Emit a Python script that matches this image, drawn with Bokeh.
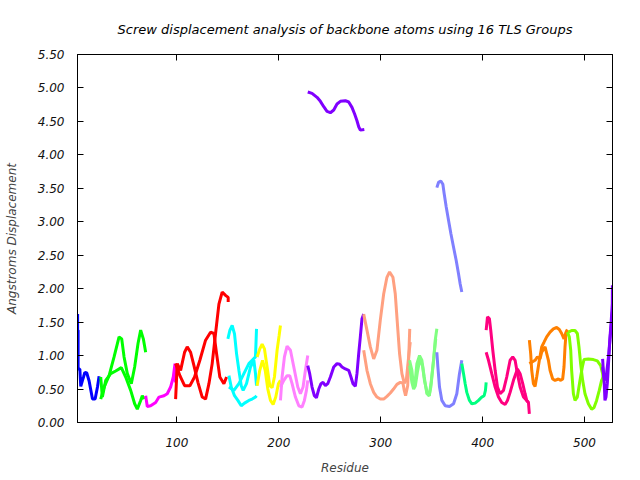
from bokeh.plotting import figure
from bokeh.models import Range1d, LinearAxis, FixedTicker, NumeralTickFormatter
from bokeh.embed import file_html
from bokeh.resources import INLINE

# ---- data: residue number / screw displacement (Angstroms), two traces per TLS group ----
g01_res_a = [2.5, 2.5, 3.0, 3.0, 4.7, 5.6, 7.3, 8.3, 9.6, 11.5, 13.8, 17.1, 19.7, 22.0, 23.6]
g01_val_a = [1.62, 1.38, 1.38, 0.80, 0.80, 0.54, 0.63, 0.68, 0.75, 0.74, 0.62, 0.35, 0.35, 0.53, 0.69]

g02_res_a = [25.2, 26.8, 30.1, 35.0, 39.9, 45.4, 49.7, 54.6, 58.5, 61.1, 64.4, 66.0, 67.7]
g02_val_a = [0.68, 0.38, 0.63, 0.73, 0.77, 0.82, 0.68, 0.48, 0.28, 0.20, 0.33, 0.40, 0.35]
g02_res_b = [25.2, 28.5, 33.4, 38.3, 43.2, 45.8, 48.1, 51.3, 55.2, 58.5, 61.8, 64.4, 67.0, 69.3]
g02_val_b = [0.35, 0.53, 0.70, 0.98, 1.28, 1.25, 0.98, 0.73, 0.58, 0.83, 1.18, 1.38, 1.25, 1.05]

g03_res_a = [69.3, 70.9, 74.2, 79.1, 82.4, 87.3, 90.5, 93.8, 96.4, 98.1, 98.5]
g03_val_a = [0.40, 0.24, 0.25, 0.30, 0.38, 0.40, 0.43, 0.53, 0.68, 0.88, 0.60]

g04_res_a = [98.7, 100.3, 103.6, 107.5, 110.1, 113.4, 116.7, 120.6, 124.8, 128.1, 131.4, 134.6,
             137.9, 141.2, 144.4, 147.7, 150.3, 150.3]
g04_val_a = [0.35, 0.88, 0.78, 1.05, 1.13, 1.05, 0.85, 0.60, 0.38, 0.35, 0.58, 0.88,
             1.33, 1.77, 1.95, 1.90, 1.87, 1.80]
g04_res_b = [98.7, 102.9, 107.5, 112.7, 117.3, 122.5, 128.1, 133.0, 136.3, 138.9, 142.1, 146.1, 148.7]
g04_val_b = [0.88, 0.70, 0.55, 0.55, 0.68, 0.93, 1.23, 1.35, 1.33, 1.03, 0.68, 0.58, 0.68]

g05_res_a = [150.0, 151.9, 154.2, 156.5, 158.5, 160.8, 163.1, 165.0, 168.3, 172.2, 175.5, 177.1, 178.1]
g05_val_a = [1.25, 1.375, 1.45, 1.325, 1.03, 0.78, 0.55, 0.48, 0.58, 0.83, 0.93, 0.73, 0.55]
g05_res_b = [151.0, 153.3, 156.5, 159.8, 163.1, 166.3, 170.6, 173.8, 177.1, 178.1]
g05_val_b = [0.70, 0.53, 0.40, 0.33, 0.25, 0.29, 0.33, 0.35, 0.38, 0.40]
g05_res_c = [151.0, 155.9, 160.8, 165.7, 170.6, 173.8, 177.1, 178.1]
g05_val_c = [0.53, 0.48, 0.58, 0.73, 0.88, 0.93, 0.98, 1.40]

g06_res_a = [178.7, 181.3, 183.6, 185.9, 188.5, 191.1, 193.4, 195.7, 198.3, 200.3, 201.6]
g06_val_a = [0.98, 1.10, 1.17, 1.10, 0.83, 0.55, 0.52, 0.68, 1.08, 1.30, 1.45]
g06_res_b = [178.7, 181.3, 184.0, 186.6, 189.2, 191.8, 194.4, 197.0, 199.6, 201.6]
g06_val_b = [0.55, 0.78, 0.93, 0.78, 0.50, 0.33, 0.27, 0.38, 0.58, 0.63]

g07_res_a = [201.6, 203.2, 205.5, 208.1, 211.4, 214.7, 218.6, 221.2, 223.8, 226.1, 228.4]
g07_val_a = [0.33, 0.68, 0.98, 1.14, 1.08, 0.83, 0.53, 0.43, 0.53, 0.78, 1.00]
g07_res_b = [201.6, 204.9, 208.1, 210.7, 213.0, 216.3, 219.6, 222.8, 225.1, 227.1, 228.4]
g07_val_b = [0.53, 0.63, 0.70, 0.70, 0.58, 0.38, 0.25, 0.23, 0.33, 0.48, 0.63]

g08_res_a = [228.4, 230.3, 232.6, 234.9, 236.9, 239.2, 241.4, 243.4, 245.7, 248.0, 250.6, 253.9, 257.1,
             259.7, 262.0, 265.3, 268.6, 270.8, 272.8, 275.1, 276.7, 278.4, 280.0, 281.6, 283.3]
g08_val_a = [0.85, 0.73, 0.53, 0.40, 0.37, 0.50, 0.58, 0.60, 0.55, 0.58, 0.68, 0.83, 0.88,
             0.87, 0.83, 0.80, 0.78, 0.68, 0.58, 0.54, 0.73, 1.03, 1.28, 1.55, 1.62]
g08_res_b = [228.4, 232.6, 237.5, 240.8, 244.1, 247.3, 250.6, 253.9, 257.1, 260.4, 265.3, 268.6,
             271.8, 274.4, 276.7, 278.4, 280.0, 283.9]
g08_val_b = [4.94, 4.92, 4.86, 4.80, 4.72, 4.65, 4.63, 4.67, 4.76, 4.80, 4.81, 4.79,
             4.71, 4.61, 4.51, 4.42, 4.37, 4.38]

g09_res_a = [283.3, 286.5, 289.8, 293.1, 296.3, 299.6, 302.9, 306.1, 308.7, 312.0, 314.3, 316.6,
             318.5, 320.8, 323.1, 325.1, 327.4, 329.0]
g09_val_a = [1.62, 1.38, 1.13, 0.95, 1.08, 1.53, 1.92, 2.17, 2.25, 2.17, 1.92, 1.43,
             1.03, 0.73, 0.59, 0.63, 0.98, 1.20]
g09_res_b = [283.3, 286.5, 289.8, 293.1, 296.3, 299.6, 302.9, 306.1, 309.4, 312.6, 315.9, 319.2,
             321.8, 323.1, 324.4, 326.5, 328.5]
g09_val_b = [1.08, 0.78, 0.58, 0.45, 0.38, 0.35, 0.35, 0.39, 0.44, 0.50, 0.57, 0.60,
             0.59, 0.48, 0.40, 0.55, 1.40]

g10_res_a = [328.3, 330.6, 332.3, 333.9, 335.5, 338.1, 340.4, 342.7, 345.3, 347.6, 349.2, 351.9, 353.5, 355.1]
g10_val_a = [0.93, 0.78, 0.53, 0.63, 0.88, 1.00, 0.93, 0.68, 0.43, 0.40, 0.53, 0.93, 1.23, 1.40]
g10_res_b = [328.3, 330.6, 332.3, 334.0, 336.0, 338.5, 341.0, 343.0, 345.5, 347.6, 349.5, 352.0, 354.0]
g10_val_b = [0.85, 0.60, 0.50, 0.55, 0.75, 0.95, 0.85, 0.62, 0.45, 0.40, 0.60, 0.95, 1.25]

g11_res_a = [355.1, 356.1, 357.7, 360.0, 363.3, 367.5, 371.5, 374.7, 377.3, 379.6]
g11_val_a = [1.05, 0.83, 0.53, 0.33, 0.25, 0.24, 0.28, 0.43, 0.73, 0.93]
g11_res_b = [355.1, 356.8, 359.0, 361.0, 362.3, 364.3, 366.6, 368.9, 371.5, 374.1, 376.4, 378.0, 379.6]
g11_val_b = [3.51, 3.59, 3.61, 3.56, 3.42, 3.22, 3.02, 2.82, 2.62, 2.42, 2.22, 2.07, 1.95]

g12_res_a = [379.6, 381.3, 382.9, 384.5, 387.1, 389.4, 392.7, 396.0, 399.2, 401.5, 402.8, 403.5]
g12_val_a = [0.88, 0.73, 0.58, 0.45, 0.33, 0.28, 0.29, 0.33, 0.38, 0.40, 0.48, 0.60]

g13_res_a = [403.5, 404.8, 406.7, 408.0, 410.0, 412.3, 414.6, 417.2, 420.5, 423.7, 427.0, 429.6,
             431.9, 434.2, 436.8, 440.1, 443.3, 445.0, 445.9]
g13_val_a = [1.38, 1.58, 1.55, 1.38, 1.08, 0.78, 0.53, 0.43, 0.48, 0.68, 0.93, 0.98,
             0.93, 0.73, 0.53, 0.38, 0.33, 0.30, 0.13]
g13_res_b = [403.5, 405.8, 409.0, 412.3, 415.6, 418.8, 422.1, 424.4, 427.0, 430.3, 434.2, 436.8,
             439.4, 441.7, 443.3, 445.0]
g13_val_b = [1.05, 0.93, 0.73, 0.53, 0.38, 0.30, 0.27, 0.33, 0.45, 0.63, 0.80, 0.73,
             0.58, 0.43, 0.33, 0.30]

g14_res_a = [445.9, 447.2, 448.2, 449.9, 451.5, 453.1, 455.7, 458.0, 460.3, 462.9, 466.2, 469.5,
             472.7, 475.3, 477.6, 479.9, 481.9, 483.2]
g14_val_a = [1.23, 1.03, 0.78, 0.58, 0.54, 0.68, 0.93, 1.13, 1.20, 1.28, 1.35, 1.40,
             1.42, 1.39, 1.33, 1.25, 1.35, 1.39]
g14_res_b = [445.9, 448.2, 451.5, 453.8, 456.4, 458.0, 461.3, 464.6, 466.2, 468.8, 471.1, 474.4,
             476.7, 478.6, 479.9, 480.9, 481.9, 483.2]
g14_val_b = [0.88, 0.90, 0.93, 0.98, 0.95, 1.05, 1.13, 0.93, 0.78, 0.65, 0.63, 0.65,
             0.63, 0.65, 0.83, 1.13, 1.33, 1.37]

g15_res_a = [483.2, 485.1, 486.5, 487.4, 489.1, 490.7, 493.0, 495.6, 497.9, 499.5, 503.8, 508.7,
             512.6, 515.9, 517.8, 518.5]
g15_val_a = [1.35, 1.28, 1.08, 0.78, 0.43, 0.33, 0.38, 0.63, 0.83, 0.94, 0.95, 0.94,
             0.92, 0.85, 0.73, 0.63]
g15_res_b = [484.2, 487.4, 490.7, 493.0, 494.6, 496.2, 498.2, 500.5, 503.8, 507.0, 509.3, 511.9,
             514.5, 516.8, 518.5]
g15_val_b = [1.35, 1.375, 1.375, 1.33, 1.13, 0.88, 0.63, 0.43, 0.28, 0.20, 0.22, 0.33,
             0.48, 0.63, 0.68]

g16_res_a = [517.8, 518.5, 519.4, 520.1, 521.1, 522.4, 523.4, 524.3, 525.3, 526.3, 527.3, 527.4]
g16_val_a = [0.95, 0.78, 0.58, 0.33, 0.38, 0.58, 0.83, 1.08, 1.33, 1.53, 1.78, 2.05]
g16_res_b = [517.8, 519.1, 520.4, 521.4, 522.4, 523.7, 525.0, 526.3, 527.4]
g16_val_b = [0.83, 0.68, 0.63, 0.70, 0.83, 1.00, 1.25, 1.45, 1.65]

group_colors = ["#0000ff", "#00ff00", "#ff00ff", "#ff0000", "#00ffff", "#ffff00", "#ff80ff", "#8000ff",
                "#ffa080", "#80ff80", "#8080ff", "#00ff80", "#ff0080", "#ff8000", "#80ff00", "#8000ff"]

x_tick_values = [100, 200, 300, 400, 500]
y_tick_values = [0.0, 0.5, 1.0, 1.5, 2.0, 2.5, 3.0, 3.5, 4.0, 4.5, 5.0, 5.5]

traces = [
    (0, g01_res_a, g01_val_a),
    (1, g02_res_a, g02_val_a), (1, g02_res_b, g02_val_b),
    (2, g03_res_a, g03_val_a),
    (3, g04_res_a, g04_val_a), (3, g04_res_b, g04_val_b),
    (4, g05_res_a, g05_val_a), (4, g05_res_b, g05_val_b), (4, g05_res_c, g05_val_c),
    (5, g06_res_a, g06_val_a), (5, g06_res_b, g06_val_b),
    (6, g07_res_a, g07_val_a), (6, g07_res_b, g07_val_b),
    (7, g08_res_a, g08_val_a), (7, g08_res_b, g08_val_b),
    (8, g09_res_a, g09_val_a), (8, g09_res_b, g09_val_b),
    (9, g10_res_a, g10_val_a), (9, g10_res_b, g10_val_b),
    (10, g11_res_a, g11_val_a), (10, g11_res_b, g11_val_b),
    (11, g12_res_a, g12_val_a),
    (12, g13_res_a, g13_val_a), (12, g13_res_b, g13_val_b),
    (13, g14_res_a, g14_val_a), (13, g14_res_b, g14_val_b),
    (14, g15_res_a, g15_val_a), (14, g15_res_b, g15_val_b),
    (15, g16_res_a, g16_val_a), (15, g16_res_b, g16_val_b),
]

FONT = "DejaVu Sans"

p = figure(width=636, height=478, x_range=Range1d(2.4, 527.5), y_range=Range1d(0, 5.5),
           output_backend="svg", toolbar_location=None,
           title="Screw displacement analysis of backbone atoms using 16 TLS Groups",
           min_border_left=77, min_border_right=24, min_border_top=54, min_border_bottom=56)

p.title.align = "center"
p.title.text_font = FONT
p.title.text_font_style = "italic"
p.title.text_font_size = "13px"
p.title.text_color = "#000000"
p.title.standoff = 35

p.xgrid.visible = False
p.ygrid.visible = False
p.outline_line_color = "black"
p.outline_line_width = 1
p.background_fill_color = "white"
p.border_fill_color = "white"

for gi, xs, ys in traces:
    p.line(xs, ys, line_color=group_colors[gi], line_width=3)

def style_axis(ax):
    ax.axis_line_color = "black"
    ax.major_tick_line_color = "black"
    ax.major_tick_in = 6
    ax.major_tick_out = 0
    ax.minor_tick_line_color = None
    ax.major_label_text_font = FONT
    ax.major_label_text_font_style = "italic"
    ax.major_label_text_color = "#111111"
    ax.major_label_text_font_size = "12px"

xa = p.xaxis[0]
xa.ticker = FixedTicker(ticks=x_tick_values)
style_axis(xa)
xa.major_label_standoff = 15
xa.axis_label = "Residue"
xa.axis_label_text_font = FONT
xa.axis_label_text_font_style = "italic"
xa.axis_label_text_font_size = "12px"
xa.axis_label_standoff = 11

ya = p.yaxis[0]
ya.ticker = FixedTicker(ticks=y_tick_values)
ya.formatter = NumeralTickFormatter(format="0.00")
style_axis(ya)
ya.major_label_standoff = 13
ya.axis_label = "Angstroms Displacement"
ya.axis_label_text_font = FONT
ya.axis_label_text_font_style = "italic"
ya.axis_label_text_font_size = "12px"
ya.axis_label_standoff = 16

# mirrored inward ticks on the top and right borders (no labels)
top_ax = LinearAxis(ticker=FixedTicker(ticks=x_tick_values))
style_axis(top_ax)
top_ax.major_label_overrides = {v: "" for v in x_tick_values}
top_ax.major_label_text_color = None
top_ax.major_label_standoff = 0
p.add_layout(top_ax, "above")

right_ax = LinearAxis(ticker=FixedTicker(ticks=y_tick_values))
style_axis(right_ax)
right_ax.major_label_overrides = {v: "" for v in y_tick_values}
right_ax.major_label_text_color = None
right_ax.major_label_standoff = 0
p.add_layout(right_ax, "right")

open("out.html", "w").write(file_html(p, INLINE))
